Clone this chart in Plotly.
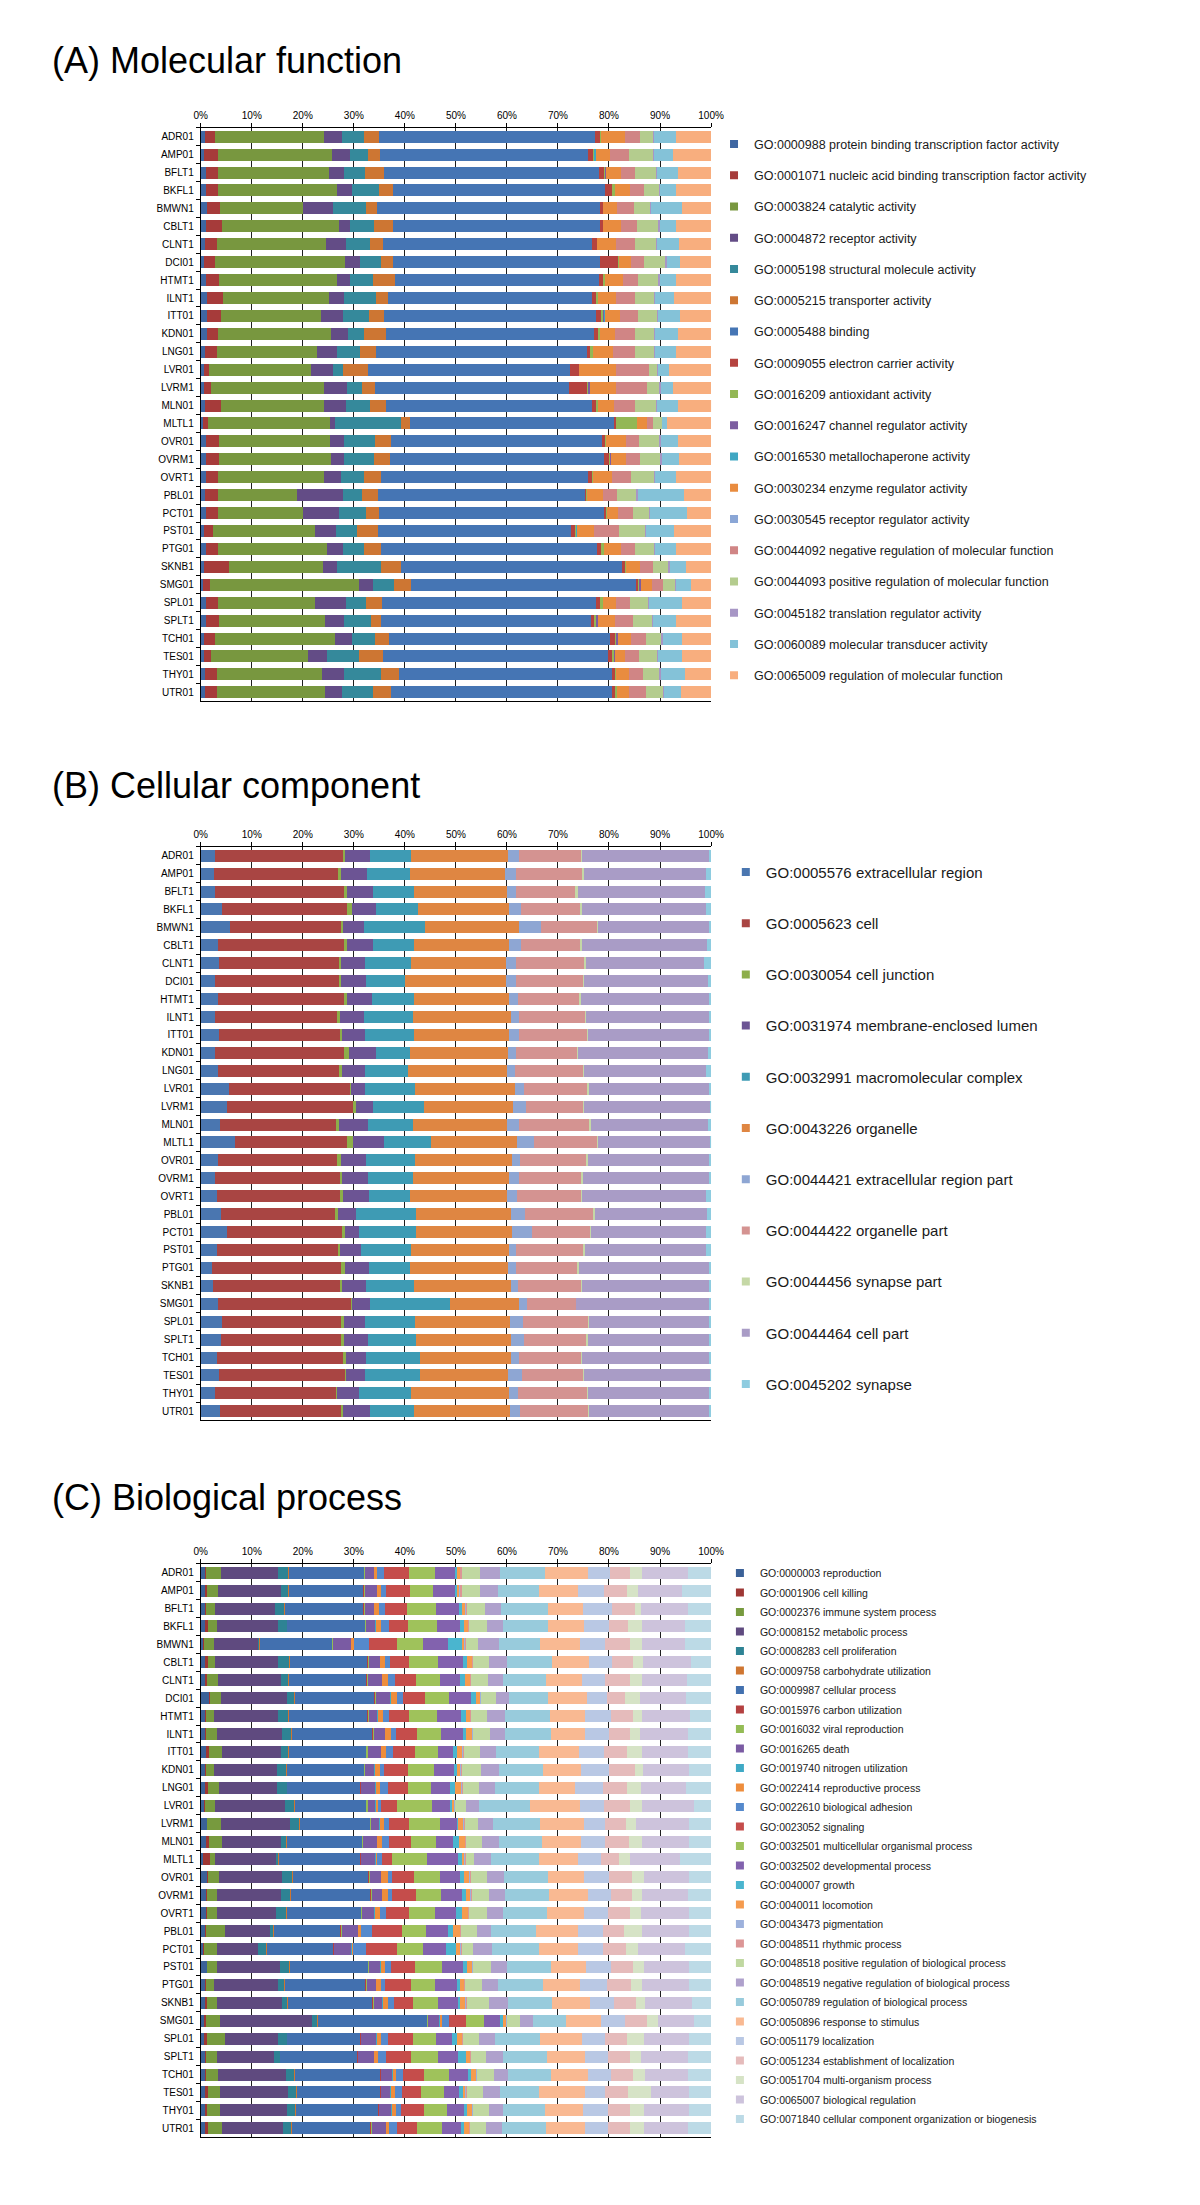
import plotly.graph_objects as go

samples = ["ADR01", "AMP01", "BFLT1", "BKFL1", "BMWN1", "CBLT1", "CLNT1", "DCI01", "HTMT1", "ILNT1",
           "ITT01", "KDN01", "LNG01", "LVR01", "LVRM1", "MLN01", "MLTL1", "OVR01", "OVRM1", "OVRT1",
           "PBL01", "PCT01", "PST01", "PTG01", "SKNB1", "SMG01", "SPL01", "SPLT1", "TCH01", "TES01",
           "THY01", "UTR01"]

pct_ticks = [0, 10, 20, 30, 40, 50, 60, 70, 80, 90, 100]

# ---------------- (A) Molecular function ----------------
mf_terms = [
    "GO:0000988 protein binding transcription factor activity",
    "GO:0001071 nucleic acid binding transcription factor activity",
    "GO:0003824 catalytic activity",
    "GO:0004872 receptor activity",
    "GO:0005198 structural molecule activity",
    "GO:0005215 transporter activity",
    "GO:0005488 binding",
    "GO:0009055 electron carrier activity",
    "GO:0016209 antioxidant activity",
    "GO:0016247 channel regulator activity",
    "GO:0016530 metallochaperone activity",
    "GO:0030234 enzyme regulator activity",
    "GO:0030545 receptor regulator activity",
    "GO:0044092 negative regulation of molecular function",
    "GO:0044093 positive regulation of molecular function",
    "GO:0045182 translation regulator activity",
    "GO:0060089 molecular transducer activity",
    "GO:0065009 regulation of molecular function",
]
mf_colors = ["#3F67A2", "#A63B3A", "#78973F", "#634C86", "#35899B", "#CD7633",
             "#4575B4", "#B5433F", "#93B755", "#7C5DA0", "#3FA7C3", "#E98C3F",
             "#8AA6D6", "#D08585", "#B4CC8E", "#A796C5", "#84C2D8", "#F8AE7E"]
# rows follow `samples`, columns follow `mf_terms` (percent of annotated genes)
mf_values = [
    [0.9, 1.9, 21.3, 3.5, 4.3, 3.1, 42.2, 1.1, 0.1, 0, 0, 4.7, 0, 2.9, 2.7, 0.2, 4.3, 6.8],
    [0.6, 2.8, 22.4, 3.4, 3.5, 2.4, 40.8, 1.0, 0.3, 0, 0.2, 2.8, 0, 3.8, 4.6, 0.2, 3.8, 7.4],
    [1.0, 2.3, 21.9, 2.9, 4.1, 3.7, 42.1, 1.0, 0.2, 0.2, 0, 2.9, 0, 2.8, 4.1, 0.2, 4.2, 6.4],
    [1.0, 2.3, 23.5, 2.9, 5.2, 2.8, 41.6, 1.3, 0.6, 0, 0, 3.0, 0, 2.6, 3.0, 0.2, 3.2, 6.8],
    [1.2, 2.5, 16.4, 5.9, 6.4, 2.1, 43.7, 0.6, 0.1, 0, 0, 2.6, 0, 3.4, 3.1, 0.2, 6.2, 5.6],
    [1.0, 3.1, 23.0, 2.2, 4.7, 3.7, 40.5, 0.6, 0.1, 0, 0, 3.5, 0, 3.1, 4.2, 0.2, 3.3, 6.8],
    [0.8, 2.3, 21.4, 3.9, 4.7, 2.6, 41.0, 0.9, 0.1, 0, 0, 3.6, 0, 3.8, 4.1, 0.2, 4.3, 6.3],
    [0.7, 2.1, 25.5, 3.0, 4.0, 2.4, 40.6, 3.5, 0.1, 0, 0, 2.5, 0, 2.4, 4.3, 0.2, 2.7, 6.0],
    [1.0, 2.6, 23.2, 2.4, 4.5, 4.3, 40.1, 0.7, 0.5, 0, 0, 3.4, 0, 3.0, 4.0, 0.2, 3.3, 6.8],
    [1.2, 3.2, 20.8, 2.9, 6.2, 2.4, 40.0, 0.8, 0.3, 0, 0, 3.6, 0, 3.6, 3.9, 0.2, 3.7, 7.2],
    [1.2, 2.7, 19.7, 4.2, 5.2, 2.9, 41.6, 1.0, 0.3, 0.2, 0.3, 2.9, 0, 3.5, 3.8, 0.2, 4.3, 6.0],
    [1.2, 2.1, 22.3, 3.3, 3.0, 4.5, 40.6, 0.9, 0.3, 0, 0, 3.0, 0, 3.8, 3.9, 0.2, 4.4, 6.5],
    [0.9, 2.2, 19.7, 4.0, 4.5, 3.0, 41.3, 0.7, 0.5, 0, 0, 3.9, 0, 4.3, 3.8, 0.2, 4.2, 6.8],
    [0.6, 1.1, 20.0, 4.2, 2.0, 4.8, 39.7, 1.7, 0.1, 0, 0, 7.2, 0, 6.5, 1.6, 0.2, 2.0, 8.3],
    [0.7, 1.4, 22.0, 4.6, 3.0, 2.4, 38.0, 3.6, 0.2, 0.3, 0, 5.1, 0, 6.1, 2.5, 0.3, 2.3, 7.5],
    [0.8, 3.2, 20.2, 4.2, 4.8, 3.1, 40.4, 0.7, 0.4, 0, 0, 3.2, 0, 4.0, 4.2, 0.2, 4.1, 6.7],
    [0.4, 1.1, 23.8, 1.1, 12.8, 1.9, 40.0, 0.3, 4.1, 0, 0, 2.0, 0, 1.2, 1.7, 0, 0.9, 8.7],
    [1.0, 2.6, 21.8, 2.7, 6.1, 3.1, 41.4, 0.6, 0.1, 0, 0, 3.9, 0, 2.6, 4.0, 0.2, 3.4, 6.5],
    [1.0, 2.6, 22.0, 2.4, 5.9, 3.2, 42.0, 0.9, 0.2, 0.2, 0, 2.9, 0, 2.8, 4.0, 0.3, 3.3, 6.3],
    [1.0, 2.4, 20.8, 3.3, 4.5, 3.3, 40.6, 0.9, 0.1, 0, 0, 3.6, 0, 3.9, 4.5, 0.2, 4.1, 6.8],
    [0.8, 2.5, 15.5, 9.0, 3.9, 3.1, 40.5, 0.3, 0.1, 0, 0, 3.2, 0, 2.7, 3.8, 0.2, 9.1, 5.3],
    [1.0, 2.4, 16.7, 7.0, 5.3, 2.6, 44.1, 0.3, 0.3, 0, 0, 2.1, 0, 2.9, 3.2, 0.2, 7.1, 4.8],
    [0.7, 1.8, 19.8, 4.2, 4.1, 4.2, 37.7, 0.8, 0.2, 0.1, 0.2, 3.2, 0, 5.0, 5.1, 0.2, 5.4, 7.3],
    [1.0, 2.4, 21.3, 3.1, 4.1, 3.4, 42.3, 0.9, 0.6, 0, 0, 3.2, 0, 2.7, 3.9, 0.2, 4.1, 6.8],
    [0.6, 5.0, 18.4, 2.8, 8.5, 4.0, 43.2, 0.6, 0.2, 0, 0, 2.8, 0, 2.6, 2.8, 0.4, 3.1, 5.0],
    [0.4, 1.5, 29.1, 2.7, 4.1, 3.5, 44.0, 0.4, 0.2, 0.3, 0, 2.3, 0, 2.1, 2.3, 0.2, 3.0, 3.9],
    [1.0, 2.3, 19.0, 6.1, 4.0, 3.2, 41.9, 0.8, 0.6, 0, 0, 2.4, 0, 2.9, 3.5, 0.2, 6.4, 5.7],
    [1.0, 2.6, 20.7, 3.7, 5.4, 1.9, 41.1, 0.8, 0.3, 0.3, 0, 3.3, 0, 3.6, 3.7, 0.2, 4.6, 6.8],
    [0.7, 2.1, 23.6, 3.3, 4.5, 2.7, 43.3, 1.0, 0.2, 0.3, 0, 2.7, 0, 2.9, 3.0, 0.2, 3.9, 5.6],
    [0.7, 1.3, 19.0, 3.7, 6.4, 4.7, 44.1, 0.8, 0.3, 0.2, 0, 1.9, 0, 2.8, 3.6, 0.2, 4.7, 5.6],
    [0.9, 2.2, 20.6, 4.4, 7.2, 3.5, 41.8, 0.6, 0.1, 0, 0, 2.7, 0, 2.7, 3.2, 0.2, 4.7, 5.2],
    [0.9, 2.2, 21.2, 3.3, 6.1, 3.5, 43.4, 0.7, 0.2, 0, 0, 2.5, 0, 3.3, 3.3, 0.2, 3.3, 5.9],
]

# ---------------- (B) Cellular component ----------------
cc_terms = [
    "GO:0005576 extracellular region",
    "GO:0005623 cell",
    "GO:0030054 cell junction",
    "GO:0031974 membrane-enclosed lumen",
    "GO:0032991 macromolecular complex",
    "GO:0043226 organelle",
    "GO:0044421 extracellular region part",
    "GO:0044422 organelle part",
    "GO:0044456 synapse part",
    "GO:0044464 cell part",
    "GO:0045202 synapse",
]
cc_colors = ["#4A76B0", "#A94543", "#8DAE4A", "#6C5494", "#3E9BB4", "#DF8642",
             "#8EA6D3", "#D49391", "#C5D8A6", "#A99CC6", "#8ECCE0"]
cc_values = [
    [2.8, 25.1, 0.4, 4.8, 8.2, 19.0, 2.0, 12.3, 0.2, 24.7, 0.5],
    [2.7, 24.2, 0.6, 5.1, 8.5, 18.5, 2.1, 13.1, 0.3, 24.0, 0.9],
    [2.8, 25.2, 0.7, 5.0, 8.0, 18.4, 1.7, 11.5, 0.6, 25.0, 1.1],
    [4.1, 24.6, 1.0, 4.7, 8.2, 17.8, 2.4, 11.6, 0.4, 24.3, 0.9],
    [5.8, 21.7, 0.4, 4.1, 12.0, 18.3, 4.3, 11.1, 0.2, 21.6, 0.5],
    [3.3, 24.7, 0.6, 5.1, 8.1, 18.7, 2.2, 11.7, 0.4, 24.4, 0.8],
    [3.5, 23.6, 0.4, 4.7, 9.0, 18.7, 1.9, 13.3, 0.4, 23.2, 1.3],
    [2.8, 24.4, 0.3, 4.9, 7.7, 19.8, 1.9, 13.2, 0.2, 24.2, 0.6],
    [3.3, 24.7, 0.6, 4.9, 8.2, 18.7, 1.7, 12.1, 0.3, 25.0, 0.5],
    [2.8, 24.0, 0.5, 4.7, 9.5, 19.3, 1.5, 13.0, 0.2, 24.0, 0.5],
    [3.5, 23.8, 0.4, 4.5, 9.5, 18.7, 1.9, 13.4, 0.2, 23.6, 0.5],
    [2.8, 25.3, 0.9, 5.3, 6.8, 19.2, 1.4, 12.1, 0.2, 25.4, 0.6],
    [3.3, 23.8, 0.5, 4.6, 8.5, 19.3, 1.5, 13.5, 0.2, 23.8, 1.0],
    [5.6, 23.7, 0.2, 2.7, 9.7, 19.6, 1.9, 12.3, 0.3, 23.5, 0.5],
    [5.2, 24.7, 0.5, 3.4, 9.9, 17.4, 2.6, 11.3, 0.1, 24.7, 0.2],
    [3.8, 22.8, 0.5, 5.6, 8.8, 18.6, 2.3, 13.8, 0.2, 23.0, 0.6],
    [6.8, 21.8, 1.2, 6.1, 9.3, 16.7, 3.4, 12.4, 0.1, 22.0, 0.2],
    [3.3, 23.5, 0.7, 4.9, 9.5, 19.0, 1.7, 13.0, 0.3, 23.6, 0.5],
    [2.8, 24.5, 0.4, 5.1, 8.7, 18.9, 1.9, 12.3, 0.4, 24.6, 0.4],
    [3.1, 24.2, 0.6, 5.1, 8.1, 19.0, 1.9, 12.6, 0.2, 24.2, 1.0],
    [4.0, 22.3, 0.6, 3.6, 11.6, 18.7, 2.8, 13.3, 0.3, 22.1, 0.7],
    [5.2, 22.5, 0.6, 2.8, 11.1, 18.7, 4.0, 11.4, 0.1, 22.6, 1.0],
    [3.1, 23.8, 0.4, 4.1, 9.8, 19.2, 1.4, 13.2, 0.3, 23.7, 1.0],
    [2.3, 25.2, 0.8, 4.6, 8.2, 19.2, 1.4, 12.1, 0.4, 25.3, 0.5],
    [2.5, 24.7, 0.5, 4.7, 9.3, 19.1, 1.4, 12.4, 0.2, 24.7, 0.5],
    [3.3, 26.1, 0.3, 3.4, 15.7, 13.6, 1.5, 9.6, 0.1, 26.0, 0.4],
    [4.1, 23.4, 0.6, 4.1, 9.7, 18.7, 2.5, 12.8, 0.2, 23.4, 0.5],
    [4.0, 23.5, 0.6, 4.6, 9.4, 18.7, 2.6, 12.2, 0.3, 23.6, 0.5],
    [3.1, 24.8, 0.6, 3.9, 10.5, 17.9, 1.6, 12.1, 0.2, 24.8, 0.5],
    [3.6, 24.7, 0.2, 3.7, 10.7, 17.4, 2.6, 12.0, 0.2, 24.7, 0.2],
    [2.8, 23.7, 0.3, 4.3, 10.1, 19.2, 1.7, 13.6, 0.2, 23.6, 0.5],
    [3.8, 23.7, 0.4, 5.2, 8.6, 18.9, 1.9, 13.4, 0.2, 23.5, 0.4],
]

# ---------------- (C) Biological process ----------------
bp_terms = [
    "GO:0000003 reproduction",
    "GO:0001906 cell killing",
    "GO:0002376 immune system process",
    "GO:0008152 metabolic process",
    "GO:0008283 cell proliferation",
    "GO:0009758 carbohydrate utilization",
    "GO:0009987 cellular process",
    "GO:0015976 carbon utilization",
    "GO:0016032 viral reproduction",
    "GO:0016265 death",
    "GO:0019740 nitrogen utilization",
    "GO:0022414 reproductive process",
    "GO:0022610 biological adhesion",
    "GO:0023052 signaling",
    "GO:0032501 multicellular organismal process",
    "GO:0032502 developmental process",
    "GO:0040007 growth",
    "GO:0040011 locomotion",
    "GO:0043473 pigmentation",
    "GO:0048511 rhythmic process",
    "GO:0048518 positive regulation of biological process",
    "GO:0048519 negative regulation of biological process",
    "GO:0050789 regulation of biological process",
    "GO:0050896 response to stimulus",
    "GO:0051179 localization",
    "GO:0051234 establishment of localization",
    "GO:0051704 multi-organism process",
    "GO:0065007 biological regulation",
    "GO:0071840 cellular component organization or biogenesis",
]
bp_colors = ["#3B6198", "#9E3734", "#779A3E", "#5F4A7F", "#2E8394", "#CF7631",
             "#4270AF", "#B44040", "#94BC55", "#7A5BA3", "#3FA9C5", "#EE8D3C",
             "#5589CC", "#C54D4B", "#9FC25B", "#8262AE", "#4AB5CF", "#F59B4E",
             "#9DB1DC", "#DC9696", "#C0D8A1", "#AFA1CC", "#98CBDC", "#F9B992",
             "#B9C8E4", "#E5BBBB", "#D6E3C6", "#CDC3DC", "#BCDAE6"]
bp_values = [
    [0.9, 0.1, 2.9, 11.3, 2.0, 0.1, 14.7, 0.1, 0.1, 1.7, 0.1, 0.6, 1.3, 4.9, 5.1, 4.0, 0.4, 0.5, 0.1, 0.2, 3.7, 3.8, 8.9, 8.3, 4.3, 4.0, 2.4, 9.0, 4.5],
    [0.9, 0.3, 2.1, 12.4, 1.5, 0.1, 14.6, 0.1, 0.1, 2.4, 0.1, 0.7, 1.0, 4.8, 4.5, 4.2, 0.5, 0.4, 0.2, 0.3, 3.5, 3.5, 8.0, 7.7, 5.1, 4.5, 2.2, 8.6, 5.7],
    [0.9, 0.1, 1.8, 11.8, 1.8, 0.1, 15.4, 0.1, 0.1, 1.8, 0.1, 0.9, 1.2, 4.3, 5.7, 4.5, 0.5, 0.8, 0.1, 0.1, 3.6, 3.2, 9.2, 6.8, 5.6, 4.5, 1.3, 9.2, 4.5],
    [0.9, 0.6, 1.6, 12.1, 1.7, 0.1, 15.2, 0.1, 0.1, 1.8, 0.1, 1.0, 1.6, 3.7, 5.7, 4.5, 0.7, 0.9, 0.1, 0.1, 3.4, 3.3, 8.8, 7.1, 4.8, 3.8, 2.7, 8.4, 5.1],
    [0.4, 0.3, 2.0, 8.6, 0.2, 0.1, 14.1, 0.1, 0.1, 3.5, 0.1, 0.6, 2.9, 5.4, 5.1, 4.9, 2.7, 0.6, 0.1, 0.1, 2.5, 4.0, 8.1, 7.8, 5.0, 4.8, 2.3, 8.4, 5.2],
    [0.9, 0.6, 1.3, 12.4, 2.2, 0.1, 15.2, 0.1, 0.2, 2.1, 0.1, 0.9, 1.0, 3.8, 5.6, 4.8, 0.8, 1.0, 0.1, 0.1, 3.2, 3.6, 8.8, 7.1, 4.6, 4.1, 2.0, 9.3, 4.0],
    [0.9, 0.3, 2.1, 12.4, 1.5, 0.1, 15.2, 0.1, 0.1, 2.8, 0.1, 1.0, 1.4, 4.1, 4.8, 3.9, 1.0, 1.0, 0.1, 0.1, 3.2, 3.0, 8.5, 7.1, 4.5, 4.8, 2.4, 8.8, 4.7],
    [1.7, 0.1, 2.1, 13.0, 1.5, 0.1, 15.5, 0.1, 0.2, 2.8, 0.1, 1.3, 1.1, 4.4, 4.6, 4.3, 1.0, 0.9, 0.1, 0.1, 2.8, 2.7, 7.6, 7.5, 4.1, 3.4, 3.0, 9.0, 4.9],
    [0.9, 0.1, 1.7, 12.5, 2.0, 0.1, 15.4, 0.1, 0.1, 1.7, 0.1, 1.1, 1.0, 4.0, 5.5, 4.7, 0.9, 0.9, 0.1, 0.1, 3.0, 3.6, 8.9, 6.8, 5.1, 4.3, 1.7, 9.5, 4.1],
    [0.9, 0.1, 2.1, 12.8, 1.9, 0.1, 15.8, 0.1, 0.1, 2.2, 0.1, 1.0, 1.1, 4.0, 4.8, 4.2, 0.6, 1.3, 0.1, 0.1, 3.2, 3.1, 8.9, 6.7, 4.7, 4.2, 1.9, 9.3, 4.6],
    [1.1, 0.6, 2.4, 11.6, 1.5, 0.1, 15.1, 0.1, 0.2, 2.6, 0.1, 1.0, 1.3, 4.2, 4.6, 3.0, 0.8, 1.0, 0.1, 0.1, 3.3, 3.0, 8.5, 7.9, 4.9, 4.4, 2.9, 9.1, 4.5],
    [0.9, 0.1, 1.7, 12.3, 1.8, 0.1, 15.1, 0.1, 0.1, 1.8, 0.1, 1.0, 0.9, 4.7, 5.0, 4.0, 0.6, 0.6, 0.1, 0.1, 3.8, 3.5, 8.6, 7.5, 5.5, 5.0, 1.6, 9.1, 4.3],
    [0.9, 0.6, 2.0, 11.5, 1.9, 0.1, 14.3, 0.1, 0.1, 2.7, 0.1, 0.9, 1.5, 4.0, 4.5, 3.7, 1.0, 1.2, 0.1, 0.1, 3.2, 3.2, 8.6, 7.0, 5.6, 4.7, 2.6, 8.9, 4.9],
    [0.6, 0.2, 2.0, 13.7, 1.8, 0.1, 14.0, 0.1, 0.2, 1.5, 0.1, 0.5, 0.5, 3.1, 7.0, 3.5, 0.3, 0.5, 0.1, 0.1, 2.0, 2.7, 10.0, 9.7, 4.8, 5.0, 2.3, 10.2, 3.4],
    [1.2, 0.1, 2.6, 13.5, 1.9, 0.1, 13.8, 0.1, 0.1, 1.6, 0.1, 0.8, 0.9, 4.0, 6.0, 3.4, 0.3, 1.0, 0.1, 0.1, 2.7, 2.9, 9.2, 8.6, 4.2, 4.0, 1.9, 10.5, 4.3],
    [1.0, 0.7, 2.4, 11.6, 1.1, 0.1, 14.7, 0.1, 0.1, 2.7, 0.1, 1.0, 1.3, 4.4, 4.8, 3.4, 1.1, 1.2, 0.1, 0.1, 3.2, 3.3, 8.3, 7.7, 4.8, 4.7, 2.5, 9.1, 4.4],
    [0.4, 1.4, 1.0, 12.0, 0.4, 0.1, 16.0, 0.1, 0.1, 2.7, 0.1, 0.3, 0.9, 2.0, 6.9, 6.0, 0.7, 0.5, 0.2, 0.1, 1.6, 3.3, 9.4, 7.8, 4.4, 3.6, 2.2, 9.8, 6.0],
    [1.2, 0.3, 2.0, 12.4, 2.0, 0.1, 14.9, 0.1, 0.1, 2.2, 0.1, 1.2, 0.9, 4.3, 5.1, 4.0, 0.7, 1.1, 0.1, 0.1, 3.2, 3.3, 8.6, 7.1, 4.9, 4.5, 2.4, 8.7, 4.4],
    [1.0, 0.2, 1.9, 12.6, 1.8, 0.1, 15.7, 0.1, 0.1, 2.0, 0.1, 1.0, 0.9, 4.6, 5.0, 4.1, 0.7, 1.0, 0.1, 0.1, 3.3, 3.2, 8.7, 7.6, 4.5, 4.2, 1.9, 9.0, 4.5],
    [1.0, 0.2, 1.9, 11.7, 2.0, 0.1, 14.5, 0.1, 0.1, 2.4, 0.1, 1.1, 1.2, 4.4, 5.2, 4.0, 1.2, 1.2, 0.1, 0.1, 3.4, 3.3, 8.6, 7.3, 4.7, 4.3, 2.1, 9.3, 4.4],
    [0.9, 0.1, 3.7, 8.8, 0.8, 0.1, 13.0, 0.1, 0.1, 3.2, 0.1, 0.6, 2.0, 6.0, 4.7, 4.2, 1.1, 1.3, 0.1, 0.1, 3.1, 2.8, 8.8, 8.3, 4.8, 4.2, 3.5, 9.1, 4.4],
    [0.5, 0.1, 2.5, 8.2, 1.6, 0.1, 13.0, 0.1, 0.1, 3.3, 0.1, 0.3, 2.5, 6.0, 5.2, 4.4, 2.0, 0.9, 0.1, 0.1, 2.2, 3.8, 9.2, 7.7, 4.8, 4.5, 2.4, 9.1, 5.2],
    [1.2, 0.1, 1.8, 12.4, 1.9, 0.1, 15.3, 0.1, 0.1, 2.2, 0.1, 0.9, 1.1, 4.6, 5.4, 4.0, 0.8, 1.1, 0.1, 0.1, 3.4, 3.3, 8.5, 6.9, 4.9, 4.4, 2.0, 8.8, 4.4],
    [0.8, 0.2, 1.7, 12.4, 1.3, 0.1, 15.8, 0.1, 0.1, 1.8, 0.1, 0.9, 0.8, 5.1, 4.7, 4.3, 0.6, 0.8, 0.1, 0.1, 3.3, 3.2, 8.8, 7.3, 5.3, 4.7, 2.1, 9.1, 4.4],
    [0.8, 0.4, 1.9, 12.8, 1.1, 0.1, 16.6, 0.1, 0.1, 1.7, 0.1, 1.0, 1.2, 3.6, 5.0, 3.9, 0.5, 1.0, 0.1, 0.1, 4.3, 3.8, 8.7, 7.3, 4.8, 4.2, 1.9, 9.1, 3.8],
    [0.6, 0.4, 2.8, 18.1, 1.0, 0.1, 21.3, 0.1, 0.1, 2.3, 0.1, 0.4, 1.3, 3.3, 3.7, 3.0, 0.6, 0.7, 0.1, 0.1, 2.5, 2.5, 6.5, 6.9, 4.6, 4.4, 2.2, 7.0, 3.3],
    [0.6, 0.6, 3.5, 10.5, 1.7, 0.1, 14.3, 0.1, 0.1, 2.9, 0.1, 0.8, 1.3, 4.9, 4.6, 3.2, 1.0, 0.9, 0.1, 0.1, 3.1, 3.2, 8.8, 8.3, 4.5, 4.3, 3.2, 8.8, 4.4],
    [0.8, 0.2, 2.1, 11.2, 1.2, 0.1, 15.1, 0.1, 0.1, 3.0, 0.1, 0.8, 1.6, 4.9, 5.1, 4.0, 1.5, 0.9, 0.1, 0.1, 2.9, 3.4, 8.6, 7.4, 4.6, 4.3, 2.1, 9.2, 4.5],
    [0.9, 0.1, 2.3, 13.5, 1.6, 0.1, 16.7, 0.1, 0.1, 2.1, 0.1, 0.7, 1.3, 4.2, 4.8, 3.8, 0.5, 1.1, 0.1, 0.1, 3.2, 2.8, 8.4, 7.3, 4.5, 4.4, 2.2, 8.5, 4.5],
    [0.9, 0.6, 2.3, 13.4, 1.5, 0.1, 16.4, 0.1, 0.1, 1.7, 0.1, 0.9, 1.4, 3.6, 4.5, 3.0, 0.7, 0.6, 0.1, 0.1, 3.2, 3.3, 7.7, 9.0, 4.0, 4.4, 4.5, 7.4, 4.4],
    [0.9, 0.4, 2.5, 13.1, 1.6, 0.1, 16.2, 0.1, 0.1, 2.3, 0.1, 0.8, 1.1, 4.5, 4.4, 3.4, 0.6, 1.0, 0.1, 0.1, 3.0, 2.9, 8.2, 7.5, 4.9, 4.2, 2.7, 8.8, 4.4],
    [0.9, 0.6, 2.6, 12.0, 1.7, 0.1, 15.4, 0.1, 0.1, 2.8, 0.1, 0.5, 1.5, 4.0, 4.9, 3.7, 0.5, 1.1, 0.1, 0.1, 3.1, 3.2, 8.6, 7.6, 4.6, 4.2, 2.7, 8.7, 4.5],
]

titles = ["(A) Molecular function", "(B) Cellular component", "(C) Biological process"]

W, H = 1200, 2205
FONT = "Liberation Sans, Arial, sans-serif"


def py(px):
    return 1 - px / H


panels = [
    dict(terms=mf_terms, colors=mf_colors, values=mf_values, ax="", legend="legend",
         top=127.75, bottom=701.25, title_y=61,
         leg_x=719, leg_top=129.4, leg_font=12.5, leg_gap=12),
    dict(terms=cc_terms, colors=cc_colors, values=cc_values, ax="2", legend="legend2",
         top=846.75, bottom=1420.25, title_y=785,
         leg_x=731, leg_top=855.75, leg_font=15, leg_gap=28.7),
    dict(terms=bp_terms, colors=bp_colors, values=bp_values, ax="3", legend="legend3",
         top=1563.75, bottom=2137.25, title_y=1497,
         leg_x=725, leg_top=1558.5, leg_font=10.5, leg_gap=0.5),
]

fig = go.Figure()
layout = dict(
    width=W, height=H,
    margin=dict(l=0, r=0, t=0, b=0),
    paper_bgcolor="white", plot_bgcolor="white",
    barmode="stack", bargap=0.33,
    font=dict(family=FONT, color="black"),
    annotations=[],
)

for pi, p in enumerate(panels):
    s = p["ax"]
    xname, yname = "x" + s, "y" + s
    for j, term in enumerate(p["terms"]):
        fig.add_trace(go.Bar(
            y=samples, x=[row[j] for row in p["values"]], orientation="h",
            name=term, marker=dict(color=p["colors"][j], line=dict(width=0)),
            showlegend=False, xaxis=xname, yaxis=yname,
            hovertemplate="%{y}: %{x:.1f}%<extra>" + term + "</extra>",
        ))
        fig.add_trace(go.Scatter(
            x=[None], y=[None], mode="markers", name=term,
            marker=dict(symbol="square", size=8, color=p["colors"][j]),
            legend=p["legend"], legendgroup=f"p{pi}_{j}", showlegend=True,
            xaxis=xname, yaxis=yname, hoverinfo="skip",
        ))

    layout["xaxis" + s] = dict(
        domain=[197 / W, 716 / W], anchor=yname, side="top",
        range=[0, 100], tickvals=pct_ticks, ticktext=[f"{v}%" for v in pct_ticks],
        showgrid=True, gridcolor="#1e1e1e", gridwidth=1.2,
        showline=True, linecolor="black", linewidth=1, mirror=True,
        ticks="outside", ticklen=4, tickcolor="black",
        tickfont=dict(size=10, family=FONT, color="black"),
        zeroline=False, fixedrange=True,
    )
    layout["yaxis" + s] = dict(
        domain=[py(p["bottom"]), py(p["top"])], anchor=xname,
        autorange="reversed", type="category",
        showline=True, linecolor="black", linewidth=1,
        ticks="outside", ticklen=4, tickcolor="black", tickson="boundaries",
        ticklabelstandoff=4,
        showgrid=False, zeroline=False,
        tickfont=dict(size=10, family=FONT, color="black"),
        fixedrange=True,
    )
    layout[p["legend"]] = dict(
        x=p["leg_x"] / W, y=py(p["leg_top"]), xanchor="left", yanchor="top",
        orientation="v", traceorder="grouped", tracegroupgap=p["leg_gap"],
        font=dict(size=p["leg_font"], family=FONT, color="#1a1a1a"),
        bgcolor="rgba(0,0,0,0)", borderwidth=0, itemwidth=30,
    )
    layout["annotations"].append(dict(
        text=titles[pi], xref="paper", yref="paper",
        x=44 / W, y=py(p["title_y"]), xanchor="left", yanchor="middle",
        showarrow=False, font=dict(size=36, family=FONT, color="black"),
    ))

fig.update_layout(**layout)
fig.write_html("out.html", config={"displayModeBar": False},
               post_script="document.body.style.margin='0px';")
